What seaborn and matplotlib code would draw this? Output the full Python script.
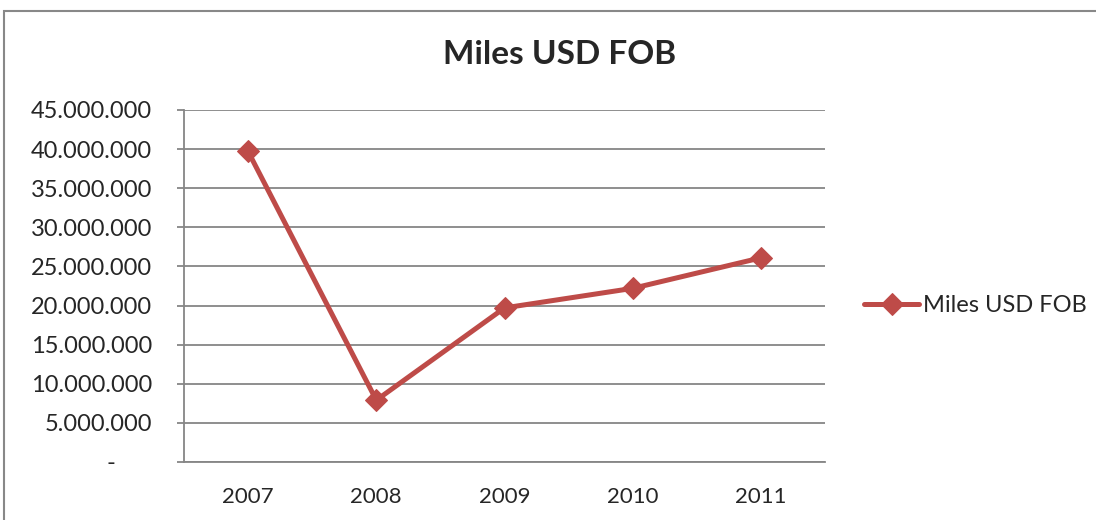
import matplotlib
matplotlib.use("Agg")
import matplotlib.pyplot as plt
from matplotlib.patches import Rectangle
from matplotlib.ticker import FuncFormatter, FixedLocator
import seaborn as sns
import pandas as pd

# data
years = ["2007", "2008", "2009", "2010", "2011"]
values = [39700000, 7900000, 19700000, 22200000, 26100000]
series_name = "Miles USD FOB"

df = pd.DataFrame({"year": years, "value": values})

sns.set_style("white")
plt.rcParams["font.family"] = ["Lato", "DejaVu Sans"]

line_color = "#BE4B48"
grid_color = "#868686"

fig = plt.figure(figsize=(10.96, 5.2), dpi=100)
ax = fig.add_axes([184 / 1096, 1 - 462 / 520, (825 - 184) / 1096, (462 - 110) / 520])

sns.lineplot(data=df, x="year", y="value", ax=ax, color=line_color, linewidth=3.6,
             marker="D", markersize=11, markeredgecolor=line_color, label=series_name)

# y axis
ax.set_ylim(0, 45000000)
ax.set_yticks(range(0, 45000001, 5000000))
def fmt(v, pos):
    if v == 0:
        return "-      "
    return f"{int(v):,}".replace(",", ".")
ax.yaxis.set_major_formatter(FuncFormatter(fmt))
ax.yaxis.grid(True, color=grid_color, linewidth=1.3)
ax.set_axisbelow(True)

# x axis: labels centred between tick marks
ax.set_xlim(-0.5, 4.5)
ax.set_xticks(range(len(years)))
ax.set_xticklabels(years)
ax.xaxis.set_minor_locator(FixedLocator([i - 0.5 for i in range(len(years) + 1)]))
ax.tick_params(axis="x", which="major", length=0, pad=18, labelsize=16)
ax.tick_params(axis="x", which="minor", length=5, width=1.3, color=grid_color, direction="out")
ax.tick_params(axis="y", which="major", length=5, width=1.3, color=grid_color,
               direction="out", left=True, labelsize=17, pad=18)

for side in ["top", "right"]:
    ax.spines[side].set_visible(False)
for side in ["left", "bottom"]:
    ax.spines[side].set_color(grid_color)
    ax.spines[side].set_linewidth(1.3)

ax.set_xlabel("")
ax.set_ylabel("")

fig.text(560 / 1096, 1 - 55 / 520, "Miles USD FOB", ha="center", va="center",
         fontsize=24, fontweight="bold")

ax.legend(loc="center left", bbox_to_anchor=(855 / 1096, 1 - 306 / 520),
          bbox_transform=fig.transFigure, frameon=False, fontsize=17,
          handlelength=2.3, handletextpad=0.2, borderaxespad=0)

# outer chart border
fig.patches.append(Rectangle((4 / 1096, -0.1), 1.1, 1 - 11 / 520 + 0.1,
                             transform=fig.transFigure, fill=False,
                             edgecolor="#888888", linewidth=1.5))

fig.savefig("out.png", dpi=100)
